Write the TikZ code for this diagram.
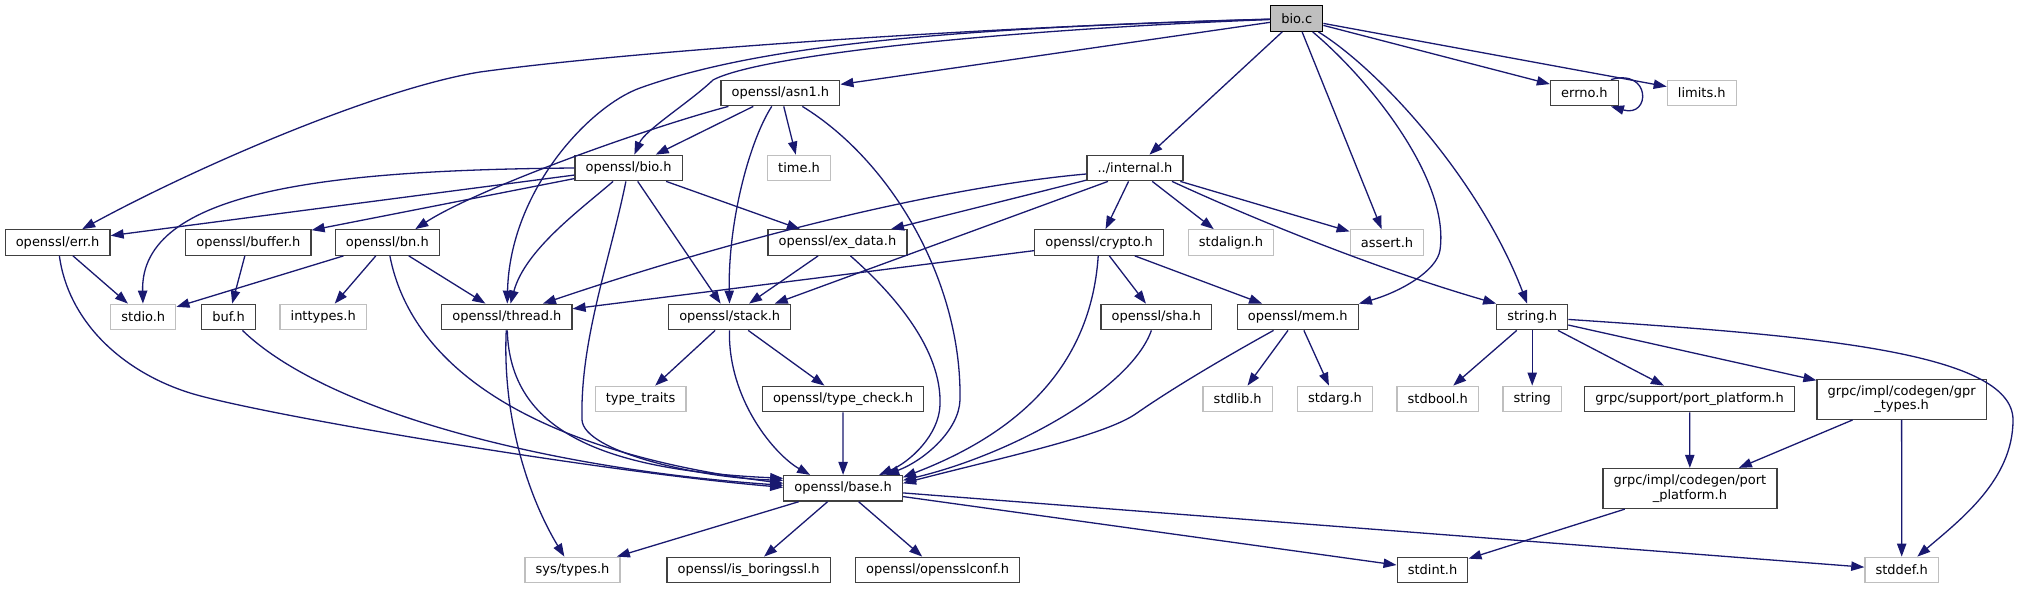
\documentclass[tikz,border=0pt]{standalone}
\usepackage{fontspec}
\setmainfont{DejaVu Sans}
\usetikzlibrary{arrows.meta}
\definecolor{edgeblue}{HTML}{191970}
\definecolor{boxdark}{HTML}{404040}
\definecolor{boxgray}{HTML}{BFBFBF}
\begin{document}
\begin{tikzpicture}[x=1pt,y=-1pt,
  hdr/.style={rectangle, draw=boxdark, line width=1.3pt, fill=white, text=black,
    font=\fontsize{13}{14.5}\selectfont, inner xsep=10.6pt, inner ysep=0pt, minimum height=25.5pt},
  ext/.style={hdr, draw=boxgray},
  root/.style={hdr, draw=black, fill=boxgray},
  two/.style={align=center, minimum height=40pt},
  e/.style={draw=edgeblue, line width=1.3pt, -{Triangle[length=13pt,width=9.3pt]}}]
\fill[white] (0,0) rectangle (2018,589);
\useasboundingbox (0,0) rectangle (2018,589);
% nodes
\node[root] (bioc) at (1296.7,18.5) {bio.c};
\node[hdr] (asn1) at (780.4,93) {openssl/asn1.h};
\node[hdr] (errno) at (1584.4,93) {errno.h};
\node[ext] (limits) at (1701.8,93) {limits.h};
\node[hdr] (bioh) at (628.6,168) {openssl/bio.h};
\node[ext] (timeh) at (799.1,168) {time.h};
\node[hdr] (internal) at (1135,168) {../internal.h};
\node[hdr] (errh) at (57.6,242.5) {openssl/err.h};
\node[hdr] (buffer) at (248.4,242.5) {openssl/buffer.h};
\node[hdr] (bn) at (387.3,242.5) {openssl/bn.h};
\node[hdr] (exdata) at (837.5,242.5) {openssl/ex\_data.h};
\node[hdr] (crypto) at (1099.1,242.5) {openssl/crypto.h};
\node[ext] (stdalign) at (1231,242.5) {stdalign.h};
\node[ext] (assert) at (1387,242.5) {assert.h};
\node[ext] (stdio) at (143.3,317) {stdio.h};
\node[hdr] (buf) at (228.6,317) {buf.h};
\node[ext] (inttypes) at (323.2,317) {inttypes.h};
\node[hdr] (thread) at (506.9,317) {openssl/thread.h};
\node[hdr] (stack) at (729.7,317) {openssl/stack.h};
\node[hdr] (sha) at (1156.2,317) {openssl/sha.h};
\node[hdr] (mem) at (1297.8,317) {openssl/mem.h};
\node[hdr] (stringh) at (1532.2,317) {string.h};
\node[ext] (typetraits) at (640.6,399) {type\_traits};
\node[hdr] (typecheck) at (843,399) {openssl/type\_check.h};
\node[ext] (stdlib) at (1237.7,399) {stdlib.h};
\node[ext] (stdarg) at (1335,399) {stdarg.h};
\node[ext] (stdbool) at (1437.8,399) {stdbool.h};
\node[ext] (stringx) at (1532.2,399) {string};
\node[hdr] (grpcsupport) at (1689.6,399) {grpc/support/port\_platform.h};
\node[hdr,two] (gprtypes) at (1901.6,399.3) {grpc/impl/codegen/gpr\\\_types.h};
\node[hdr] (base) at (843.1,488.3) {openssl/base.h};
\node[hdr,two] (codegenport) at (1689.9,488.5) {grpc/impl/codegen/port\\\_platform.h};
\node[ext] (systypes) at (572.5,570) {sys/types.h};
\node[hdr] (isboring) at (748.6,570) {openssl/is\_boringssl.h};
\node[hdr] (sslconf) at (937.7,570) {openssl/opensslconf.h};
\node[hdr] (stdint) at (1432.5,570) {stdint.h};
\node[ext] (stddef) at (1901.7,570) {stddef.h};
% bio.c
\draw[e] (bioc) .. controls (1000,26) and (640,50) .. (480,72) .. controls (380,88) and (200,165) .. (errh);
\draw[e] (bioc) .. controls (950,28) and (760,45) .. (640,88) .. controls (590,106) and (510,190) .. (thread);
\draw[e] (bioc) .. controls (1000,30) and (760,55) .. (713,80) .. controls (690,102) and (645,130) .. (bioh);
\draw[e] (bioc) -- (asn1);
\draw[e] (bioc) -- (internal);
\draw[e] (bioc) -- (errno);
\draw[e] (bioc) -- (limits);
\draw[e] (bioc) -- (assert);
\draw[e] (bioc) .. controls (1370,80) and (1450,180) .. (1440,250) .. controls (1437,271) and (1400,292) .. (mem.north east);
\draw[e] (bioc) .. controls (1380,70) and (1480,180) .. (stringh);
\draw[e] ([xshift=-8pt]errno.north east) .. controls (1651,68) and (1651,118) .. ([xshift=-8pt]errno.south east);
% asn1
\draw[e] ([xshift=-52pt]asn1.south) .. controls (640,130) and (475,190) .. ([xshift=28pt]bn.north);
\draw[e] (asn1) -- (bioh);
\draw[e] (asn1) .. controls (750,140) and (728,220) .. (stack);
\draw[e] (asn1) -- (timeh);
\draw[e] (asn1) .. controls (890,160) and (962,280) .. (960,400) .. controls (959,430) and (925,460) .. ([xshift=43pt]base.north);
% bio.h
\draw[e] (bioh.west) .. controls (330,170) and (140,190) .. (stdio);
\draw[e] (bioh) -- (errh);
\draw[e] (bioh) -- (buffer);
\draw[e] (bioh) .. controls (580,210) and (525,250) .. (thread);
\draw[e] (bioh) .. controls (610,260) and (580,340) .. (582,420) .. controls (584,452) and (700,478) .. ([yshift=8pt]base.west);
\draw[e] (bioh) -- (stack);
\draw[e] (bioh) -- (exdata);
% err.h
\draw[e] (errh) -- (stdio);
\draw[e] (errh) .. controls (68,320) and (120,370) .. (187,392) .. controls (250,413) and (600,472) .. ([yshift=1pt]base.west);
% buffer / buf
\draw[e] (buffer) -- (buf);
\draw[e] (buf) .. controls (330,415) and (560,470) .. ([yshift=3pt]base.west);
% bn
\draw[e] (bn) -- (stdio);
\draw[e] (bn) -- (inttypes);
\draw[e] (bn) -- (thread);
\draw[e] (bn) .. controls (410,360) and (520,450) .. ([yshift=5pt]base.west);
% thread
\draw[e] (thread) .. controls (502,420) and (530,500) .. (systypes);
\draw[e] (thread) .. controls (510,430) and (600,470) .. ([yshift=10pt]base.west);
% internal
\draw[e] ([yshift=-6pt]internal.west) .. controls (960,185) and (760,230) .. ([xshift=36pt]thread.north);
\draw[e] (internal) -- (exdata);
\draw[e] ([xshift=-27pt]internal.south) -- ([xshift=45pt]stack.north);
\draw[e] (internal) -- (crypto);
\draw[e] (internal) -- (stdalign);
\draw[e] (internal) -- (assert);
\draw[e] ([xshift=37pt]internal.south) .. controls (1260,222) and (1380,270) .. (stringh.north west);
% ex_data
\draw[e] (exdata) -- (stack);
\draw[e] ([xshift=13pt]exdata.south) .. controls (895,295) and (942,350) .. (940,405) .. controls (939,435) and (910,462) .. ([xshift=36pt]base.north);
% crypto
\draw[e] (crypto) -- (thread);
\draw[e] (crypto) .. controls (1090,380) and (1000,440) .. ([yshift=11pt]base.east);
\draw[e] (crypto) -- (sha);
\draw[e] (crypto) -- (mem);
% stack
\draw[e] (stack) -- (typetraits);
\draw[e] (stack) -- (typecheck);
\draw[e] (stack) .. controls (728,400) and (775,455) .. ([xshift=-33pt]base.north);
\draw[e] (typecheck) -- (base);
% sha / mem
\draw[e] (sha) .. controls (1130,390) and (1010,455) .. ([yshift=8pt]base.east);
\draw[e] (mem) .. controls (1220,360) and (1170,390) .. (1137,413) .. controls (1105,436) and (1000,458) .. ([yshift=5pt]base.east);
\draw[e] (mem) -- (stdlib);
\draw[e] (mem) -- (stdarg);
% string.h
\draw[e] (stringh) -- (stdbool);
\draw[e] (stringh) -- (stringx);
\draw[e] (stringh) -- (grpcsupport);
\draw[e] (stringh) -- (gprtypes);
\draw[e] (stringh) .. controls (1800,335) and (2013,350) .. (2013,420) .. controls (2013,480) and (1960,520) .. (stddef);
% grpc
\draw[e] (grpcsupport) -- (codegenport);
\draw[e] (gprtypes) -- (codegenport);
\draw[e] (gprtypes) -- (stddef);
\draw[e] (codegenport) -- (stdint);
% base
\draw[e] (base) -- (systypes);
\draw[e] (base) -- (isboring);
\draw[e] (base) -- (sslconf);
\draw[e] (base) -- (stdint);
\draw[e] (base) -- (stddef);
\end{tikzpicture}
\end{document}
